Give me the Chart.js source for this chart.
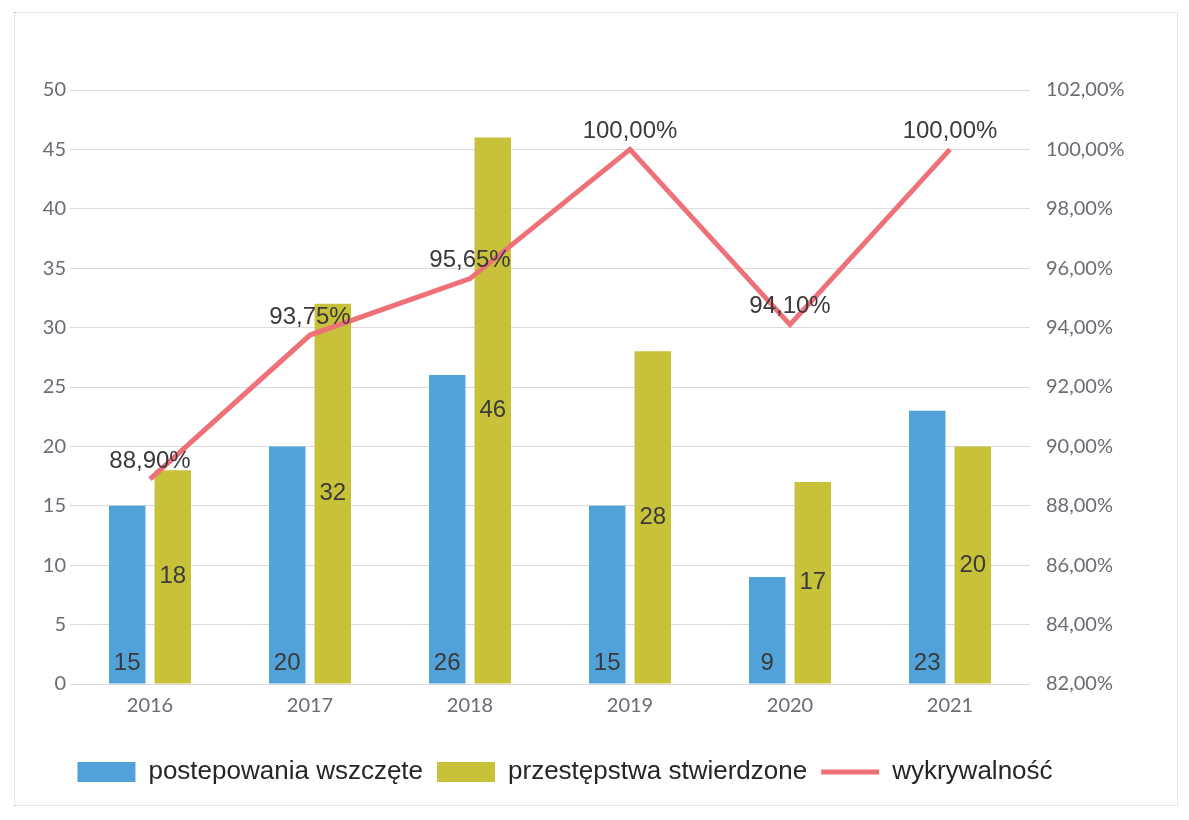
<!DOCTYPE html>
<html lang="pl">
<head>
<meta charset="utf-8">
<title>Wykrywalność 2016–2021</title>
<script src="https://cdn.jsdelivr.net/npm/chart.js@4.4.1/dist/chart.umd.min.js"></script>
<style>
  html, body { margin: 0; padding: 0; background: #fff; }
  #wrap { position: relative; width: 1189px; height: 820px; }
  #frame {
    position: absolute; left: 14px; top: 12px; width: 1164px; height: 794px;
    border: 1px dotted #cfcfcf; box-sizing: border-box; pointer-events: none;
  }
</style>
</head>
<body>
<div id="wrap">
  <canvas id="chart" width="1189" height="820"></canvas>
  <div id="frame"></div>
</div>
<script>
/* ── DATA ─────────────────────────────────────────────── */
const years       = ["2016", "2017", "2018", "2019", "2020", "2021"];
const wszczete    = [15, 20, 26, 15, 9, 23];        // postepowania wszczęte
const stwierdzone = [18, 32, 46, 28, 17, 20];       // przestępstwa stwierdzone
const wykrywalnosc = [88.90, 93.75, 95.65, 100.00, 94.10, 100.00]; // %

const seriesNames = ["postepowania wszczęte", "przestępstwa stwierdzone", "wykrywalność"];

/* ── STYLE ────────────────────────────────────────────── */
const BLUE  = "#52A2DA";
const OLIVE = "#C8C13A";
const RED   = "#EF7178";
const TICK  = "#6b6b76";
const LABEL = "#3a3a3a";
const tickFont  = { family: "Lato, 'Open Sans', sans-serif", size: 20 };
const labelFont = "24px 'Liberation Sans', Arial, sans-serif";

const pct = v => v.toFixed(2).replace(".", ",") + "%";

/* ── DATA LABELS (no datalabels plugin available) ─────── */
const valueLabels = {
  id: "valueLabels",
  afterDatasetsDraw(chart) {
    const ctx = chart.ctx;
    ctx.save();
    ctx.font = labelFont;
    ctx.fillStyle = LABEL;
    ctx.textAlign = "center";
    ctx.textBaseline = "middle";
    chart.data.datasets.forEach((ds, di) => {
      const meta = chart.getDatasetMeta(di);
      meta.data.forEach((el, i) => {
        const v = ds.data[i];
        if (di === 0) {
          ctx.fillText(String(v), el.x, el.base - 20);
        } else if (di === 1) {
          ctx.fillText(String(v), el.x, (el.y + el.base) / 2);
        } else {
          ctx.fillText(pct(v), el.x, el.y - 18);
        }
      });
    });
    ctx.restore();
  }
};

/* ── CHART ────────────────────────────────────────────── */
new Chart(document.getElementById("chart"), {
  data: {
    labels: years,
    datasets: [
      {
        type: "bar", label: seriesNames[0], data: wszczete, yAxisID: "y",
        backgroundColor: BLUE, order: 1,
        categoryPercentage: 0.57, barPercentage: 0.8
      },
      {
        type: "bar", label: seriesNames[1], data: stwierdzone, yAxisID: "y",
        backgroundColor: OLIVE, order: 2,
        categoryPercentage: 0.57, barPercentage: 0.8
      },
      {
        type: "line", label: seriesNames[2], data: wykrywalnosc, yAxisID: "y1",
        borderColor: RED, backgroundColor: RED, borderWidth: 5,
        pointRadius: 0, tension: 0, order: 0, pointStyle: "line"
      }
    ]
  },
  options: {
    responsive: false,
    animation: false,
    layout: { padding: { left: 0, right: 59, top: 90, bottom: 25 } },
    plugins: {
      tooltip: { enabled: false },
      legend: {
        position: "bottom",
        labels: {
          usePointStyle: true,
          pointStyleWidth: 58,
          boxHeight: 20,
          padding: 14,
          color: "#262626",
          font: { family: "'Liberation Sans', Arial, sans-serif", size: 26 },
          sort: (a, b) => a.datasetIndex - b.datasetIndex,
          generateLabels(chart) {
            const items = Chart.defaults.plugins.legend.labels.generateLabels(chart);
            items.forEach(it => {
              it.pointStyle = it.datasetIndex === 2 ? "line" : "rect";
              it.lineWidth = it.datasetIndex === 2 ? 5 : 0;
            });
            return items;
          }
        }
      }
    },
    scales: {
      x: {
        grid: { display: false },
        border: { display: false },
        ticks: { color: TICK, font: tickFont, padding: 2 },
        afterFit(scale) { scale.height += 25; }
      },
      y: {
        position: "left",
        min: 0, max: 50,
        ticks: { stepSize: 5, color: TICK, font: tickFont, padding: 4 },
        grid: { color: "#dadada", lineWidth: 1, drawTicks: false },
        border: { display: false },
        afterFit(scale) { scale.width = 70; }
      },
      y1: {
        position: "right",
        min: 82, max: 102,
        ticks: { stepSize: 2, color: TICK, font: tickFont, padding: 8, callback: v => pct(v) },
        grid: { display: false },
        border: { display: false },
        afterFit(scale) { scale.width = 100; }
      }
    }
  },
  plugins: [valueLabels]
});
</script>
</body>
</html>
